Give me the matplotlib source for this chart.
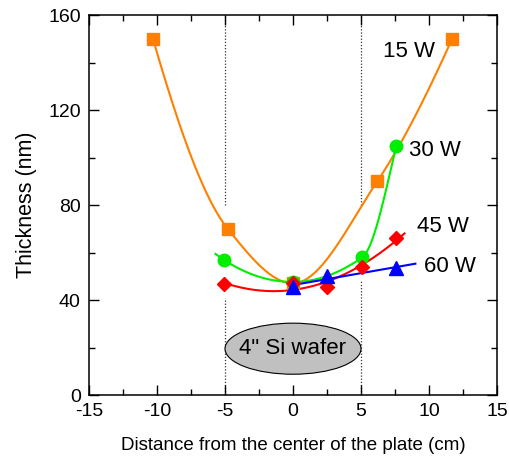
import numpy as np
import matplotlib
matplotlib.use('Agg')
import matplotlib.pyplot as plt
from matplotlib.patches import Ellipse
from matplotlib.ticker import MultipleLocator

plt.rcParams['font.family'] = ['Liberation Sans', 'DejaVu Sans']
plt.rcParams['axes.unicode_minus'] = False

# data
x15 = [-10.3, -4.8, 0.0, 6.2, 11.7]
y15 = [150, 70, 47, 90, 150]
x30 = [-5.1, 0.0, 5.1, 7.6]
y30 = [57, 47.6, 58, 105]
x45 = [-5.1, 0.0, 2.5, 5.1, 7.6]
y45 = [46.7, 47, 45.6, 54, 66]
x60 = [0.0, 2.5, 7.6]
y60 = [45.5, 50, 53.5]

labels = ['15 W', '30 W', '45 W', '60 W']


def pchip(x, y, xf):
    # shape-preserving cubic through the points (Fritsch-Carlson)
    x = np.asarray(x, float)
    y = np.asarray(y, float)
    h = np.diff(x)
    dl = np.diff(y) / h
    n = len(x)
    d = np.zeros(n)
    for k in range(1, n - 1):
        if dl[k - 1] * dl[k] > 0:
            w1 = 2 * h[k] + h[k - 1]
            w2 = h[k] + 2 * h[k - 1]
            d[k] = (w1 + w2) / (w1 / dl[k - 1] + w2 / dl[k])

    def end(h0, h1, d0, d1):
        v = ((2 * h0 + h1) * d0 - h0 * d1) / (h0 + h1)
        if np.sign(v) != np.sign(d0):
            v = 0.0
        elif np.sign(d0) != np.sign(d1) and abs(v) > 3 * abs(d0):
            v = 3 * d0
        return v

    d[0] = end(h[0], h[1], dl[0], dl[1])
    d[-1] = end(h[-1], h[-2], dl[-1], dl[-2])
    xf = np.asarray(xf, float)
    i = np.clip(np.searchsorted(x, xf) - 1, 0, n - 2)
    t = (xf - x[i]) / h[i]
    h00 = 2 * t**3 - 3 * t**2 + 1
    h10 = t**3 - 2 * t**2 + t
    h01 = -2 * t**3 + 3 * t**2
    h11 = t**3 - t**2
    return h00 * y[i] + h10 * h[i] * d[i] + h01 * y[i + 1] + h11 * h[i] * d[i + 1]


def polyline(deg):
    return lambda x, y, xf: np.polyval(np.polyfit(x, y, deg), xf)


# series: x, y, curve, curve range, colour, marker, size
series = [
    (x15, y15, pchip, (-10.3, 11.7), '#FF8000', 's', 9),
    (x30, y30, pchip, (-5.7, 7.6), '#00EE00', 'o', 9),
    (x45, y45, polyline(2), (-5.1, 8.2), '#FF0000', 'D', 7),
    (x60, y60, polyline(1), (0.0, 9.0), '#0000FF', '^', 10),
]
label_pos = [(6.6, 144.5), (8.5, 103), (9.1, 70.8), (9.6, 54)]

fig = plt.figure(figsize=(5.1, 4.62), dpi=100)
ax = fig.add_axes([0.1745, 0.145, 0.8, 0.8225])

# dotted guides at the wafer edges
for xv, gap_lo in [(-5, 41), (5, 48)]:
    ax.plot([xv, xv], [0, gap_lo], color='#333333', ls=(0, (1, 1.5)), lw=0.9, zorder=1)
    ax.plot([xv, xv], [80, 160], color='#333333', ls=(0, (1, 1.5)), lw=0.9, zorder=1)

for (xs, ys, curve, rng, col, mk, ms) in series:
    xf = np.linspace(rng[0], rng[1], 300)
    ax.plot(xf, curve(xs, ys, xf), color=col, lw=1.5, zorder=2)
    ax.plot(xs, ys, ls='none', marker=mk, color=col, markersize=ms, zorder=3)

for lab, (lx, ly) in zip(labels, label_pos):
    ax.text(lx, ly, lab, fontsize=16, ha='left', va='center')

wafer = Ellipse((0, 19.5), 10, 21.5, facecolor='#C0C0C0', edgecolor='black', lw=0.8, zorder=2)
ax.add_patch(wafer)
ax.text(0, 19.5, '4" Si wafer', fontsize=16, ha='center', va='center', zorder=3)

ax.set_xlim(-15, 15)
ax.set_ylim(0, 160)
ax.xaxis.set_major_locator(MultipleLocator(5))
ax.xaxis.set_minor_locator(MultipleLocator(2.5))
ax.yaxis.set_major_locator(MultipleLocator(40))
ax.yaxis.set_minor_locator(MultipleLocator(20))
ax.tick_params(which='both', direction='in', top=True, right=True, labelsize=14, width=1.0)
ax.tick_params(which='major', length=7, pad=6)
ax.tick_params(which='minor', length=4)
for sp in ax.spines.values():
    sp.set_linewidth(1.1)

ax.set_xlabel('Distance from the center of the plate (cm)', fontsize=13.5, labelpad=12)
ax.set_ylabel('Thickness (nm)', fontsize=15.5, labelpad=8)

fig.savefig('out.png', dpi=100)
